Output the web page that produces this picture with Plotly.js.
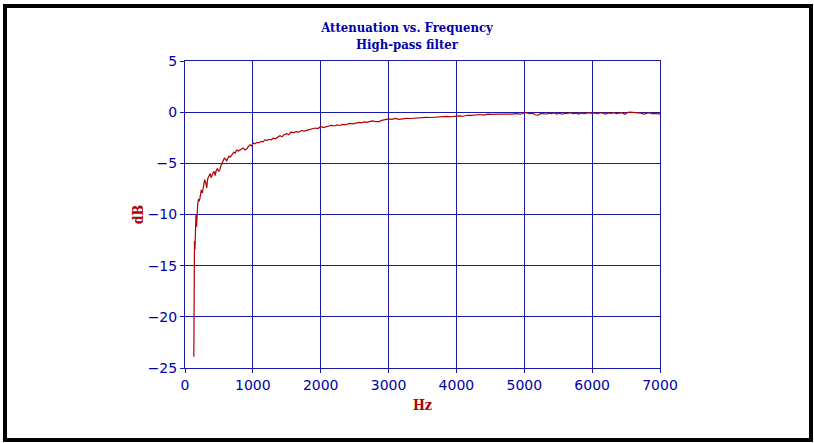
<!DOCTYPE html>
<html>
<head>
<meta charset="utf-8">
<script src="https://cdn.plot.ly/plotly-3.0.1.min.js"></script>
<style>
  html, body { margin: 0; padding: 0; background: #ffffff; }
  #wrap { position: relative; width: 814px; height: 443px; }
  #chart { position: absolute; left: 0; top: 0; width: 814px; height: 443px; }
  #frame { position: absolute; left: 3px; top: 4px; width: 810px; height: 438px;
           box-sizing: border-box; border: 4px solid #000; pointer-events: none; }
</style>
</head>
<body>
<div id="wrap"><div id="chart"></div><div id="frame"></div></div>
<script>
const titleLines = ["Attenuation vs. Frequency", "High-pass filter"];
const xLabel = "Hz";
const yLabel = "dB";
const xTicks = [0, 1000, 2000, 3000, 4000, 5000, 6000, 7000];
const yTicks = [-25, -20, -15, -10, -5, 0, 5];

const freqHz = [
  130, 140, 147, 155, 162, 170, 178, 188, 200, 212,
  225, 240, 255, 270, 290, 305, 320, 335, 350, 370,
  385, 400, 415, 430, 445, 460, 476, 495, 515, 530,
  545, 560, 580, 600, 614, 630, 648, 665, 687, 705,
  722, 740, 761, 785, 810, 835, 859, 885, 908, 930,
  957, 980, 1006, 1030, 1060, 1090, 1120, 1150, 1180, 1210,
  1240, 1270, 1300, 1330, 1360, 1400, 1430, 1460, 1500, 1530,
  1560, 1600, 1640, 1680, 1720, 1760, 1800, 1840, 1880, 1920,
  1960, 2000, 2040, 2080, 2120, 2160, 2200, 2240, 2280, 2320,
  2360, 2400, 2440, 2480, 2520, 2560, 2600, 2640, 2680, 2720,
  2760, 2800, 2850, 2900, 2950, 3000, 3050, 3100, 3150, 3200,
  3260, 3320, 3380, 3440, 3500, 3560, 3620, 3680, 3740, 3800,
  3860, 3920, 3980, 4040, 4100, 4160, 4220, 4280, 4340, 4400,
  4460, 4520, 4580, 4640, 4700, 4760, 4820, 4880, 4940, 5000,
  5030, 5080, 5120, 5160, 5200, 5240, 5280, 5320, 5360, 5400,
  5440, 5480, 5520, 5560, 5600, 5640, 5680, 5720, 5760, 5800,
  5840, 5880, 5920, 5960, 6000, 6040, 6080, 6120, 6160, 6200,
  6240, 6280, 6320, 6360, 6400, 6440, 6480, 6520, 6560, 6600,
  6640, 6680, 6720, 6760, 6800, 6840, 6880, 6920, 6960, 7000
];
const attenDb = [
  -23.9, -12.6, -13.4, -11.5, -10.0, -11.2, -9.6, -8.9, -8.5, -8.7,
  -8.2, -7.6, -7.9, -7.2, -6.6, -6.9, -7.4, -6.5, -6.2, -6.0,
  -6.4, -6.1, -5.9, -5.8, -6.2, -5.7, -5.5, -5.8, -5.6, -5.2,
  -5.0, -4.8, -4.5, -4.6, -4.8, -4.5, -4.3, -4.4, -4.2, -4.1,
  -3.9, -4.0, -3.7, -3.8, -3.7, -3.6, -3.5, -3.7, -3.6, -3.4,
  -3.2, -3.3, -3.0, -3.1, -2.95, -3.0, -2.85, -2.9, -2.7, -2.75,
  -2.65, -2.7, -2.55, -2.6, -2.45, -2.3, -2.4, -2.2, -2.1, -2.2,
  -1.95, -2.0, -1.9, -1.95, -1.8, -1.85, -1.75, -1.7, -1.65, -1.55,
  -1.6, -1.4, -1.5, -1.4, -1.35, -1.3, -1.35, -1.25, -1.3, -1.2,
  -1.25, -1.15, -1.1, -1.15, -1.05, -1.0, -1.05, -0.95, -1.0, -0.9,
  -0.85, -0.9, -0.95, -0.8, -0.75, -0.65, -0.7, -0.6, -0.7, -0.65,
  -0.6, -0.62, -0.58, -0.6, -0.55, -0.5, -0.52, -0.48, -0.5, -0.45,
  -0.42, -0.45, -0.38, -0.36, -0.4, -0.3, -0.32, -0.25, -0.23, -0.28,
  -0.2, -0.22, -0.18, -0.2, -0.2, -0.22, -0.2, -0.15, -0.2, -0.08,
  -0.05, -0.15, -0.1, -0.25, -0.3, -0.15, -0.12, -0.2, -0.1, -0.15,
  -0.08, -0.18, -0.1, -0.2, -0.1, -0.12, -0.05, -0.15, -0.1, -0.18,
  -0.08, -0.15, -0.1, -0.05, -0.12, -0.08, -0.15, -0.05, -0.1, -0.18,
  -0.08, -0.12, -0.05, -0.15, -0.1, -0.05, -0.2, -0.05, 0.0, -0.03,
  -0.05, -0.02, -0.1, -0.18, -0.08, -0.05, -0.15, -0.1, -0.12, -0.2
];

const blue = "#0000a8";
const gridBlue = "#1a1aaa";
const red = "#b00000";
const titleFont = "'DejaVu Serif Condensed', 'Liberation Serif', serif";
const tickFont = "'DejaVu Sans', Verdana, sans-serif";

const trace = {
  x: freqHz, y: attenDb, type: "scatter", mode: "lines",
  line: { color: red, width: 1.2 }, hoverinfo: "skip"
};

const layout = {
  width: 814, height: 443,
  paper_bgcolor: "#ffffff", plot_bgcolor: "#ffffff",
  margin: { l: 185, r: 154, t: 61, b: 75 },
  showlegend: false,
  title: {
    text: titleLines.join("<br>"),
    font: { family: titleFont, size: 13, color: blue, weight: "bold" },
    xref: "container", x: 0.5, xanchor: "center",
    yref: "container", y: 0.928, yanchor: "top"
  },
  xaxis: {
    range: [0, 7000], tickvals: xTicks, ticktext: xTicks.map(String),
    showgrid: true, gridcolor: gridBlue, gridwidth: 1,
    showline: true, linecolor: gridBlue, linewidth: 1, mirror: true,
    ticks: "outside", ticklen: 4, tickcolor: gridBlue,
    zeroline: false,
    tickfont: { family: tickFont, size: 14, color: blue },
    title: { text: xLabel, font: { family: titleFont, size: 14, color: red, weight: "bold" }, standoff: 8 }
  },
  yaxis: {
    range: [-25, 5], tickvals: yTicks, ticktext: yTicks.map(v => v < 0 ? "\u2212" + Math.abs(v) : String(v)),
    showgrid: true, gridcolor: gridBlue, gridwidth: 1,
    showline: true, linecolor: gridBlue, linewidth: 1, mirror: true,
    ticks: "outside", ticklen: 4, tickcolor: gridBlue,
    zeroline: false,
    tickfont: { family: tickFont, size: 14, color: blue },
    title: { text: yLabel, font: { family: titleFont, size: 14, color: red, weight: "bold" }, standoff: 0 }
  }
};

Plotly.newPlot("chart", [trace], layout, { staticPlot: true, displayModeBar: false });
</script>
</body>
</html>
